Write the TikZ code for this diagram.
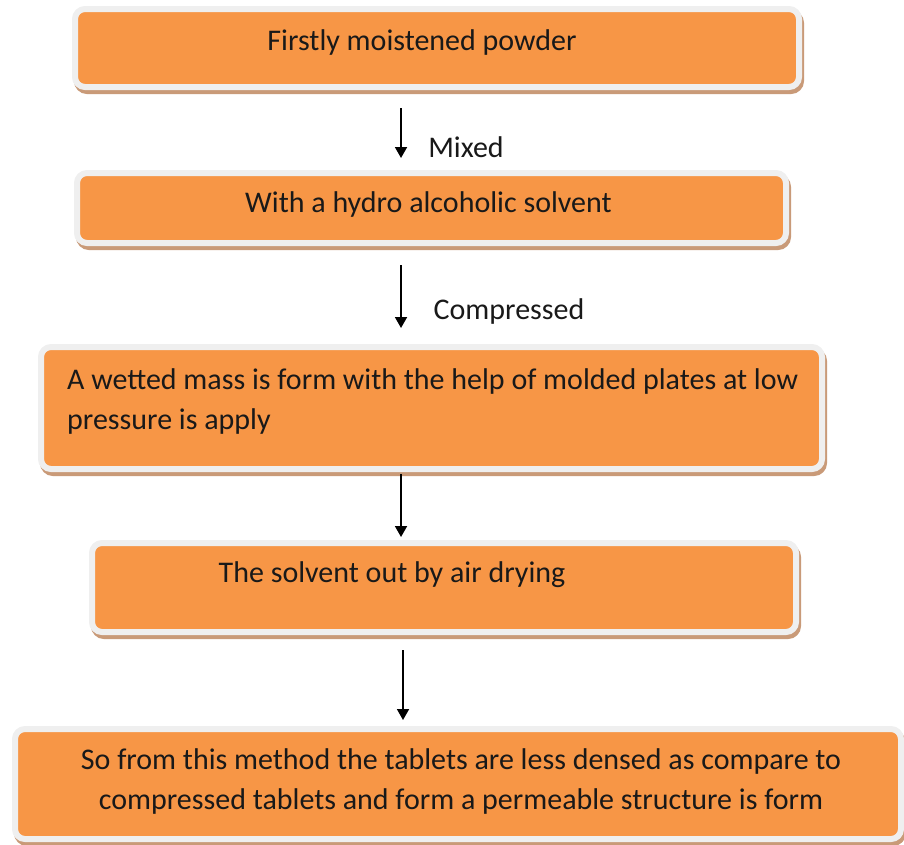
\documentclass[tikz,border=0pt]{standalone}
\usepackage{fontspec}
\setmainfont{Carlito}
\usetikzlibrary{arrows.meta,shadows}

\definecolor{boxfill}{HTML}{F79646}
\definecolor{boxedge}{HTML}{EFEFEF}
\definecolor{boxshade}{HTML}{C99A78}

\tikzset{
  stage/.style={rectangle, rounded corners=10pt, fill=boxfill, draw=boxedge,
    line width=6pt, inner sep=0pt, outer sep=0pt,
    drop shadow={shadow xshift=2pt, shadow yshift=-4pt, fill=boxshade,
      draw=boxshade, line width=6pt, opacity=1}},
  txt/.style={inner sep=0pt, font=\fontsize{30}{40}\selectfont, text=black!90},
  flow/.style={draw=black, line width=1.8pt, -{Triangle[width=12pt,length=11pt]}}
}

\begin{document}
\begin{tikzpicture}[x=1pt,y=-1pt]
   \useasboundingbox (0,0) rectangle (904,844);
   \coordinate (ax) at (401,0);
   \node[stage, minimum width=724, minimum height=78,
     label={[txt, xshift=-15pt, yshift=6pt]center:Firstly moistened powder}] (b1) at (437,48) {};
   \node[stage, minimum width=709, minimum height=70,
     label={[txt, xshift=-3pt, yshift=4pt]center:With a hydro alcoholic solvent}] (b2) at (431.5,208) {};
   \node[stage, minimum width=781, minimum height=122,
     label={[txt, align=left, anchor=west, xshift=26pt, yshift=7pt]west:A wetted mass is form with the help of molded plates at low\\pressure is apply}] (b3) at (431.5,408) {};
   \node[stage, minimum width=704, minimum height=89,
     label={[txt, xshift=-52pt, yshift=13pt]center:The solvent out by air drying}] (b4) at (444,587.5) {};
   \node[stage, minimum width=886, minimum height=110,
     label={[txt, align=center, xshift=3pt, yshift=3pt]center:So from this method the tablets are less densed as compare to\\compressed tablets and form a permeable structure is form}] (b5) at (458,784) {};
   % arrows between stages
   \draw[flow, shorten <=21pt, shorten >=15pt] (b1.south -| ax) -- (b2.north -| ax);
   \draw[flow, shorten <=22pt, shorten >=19pt] (b2.south -| ax) -- (b3.north -| ax);
   \draw[flow, shorten <=5pt, shorten >=6pt] (b3.south -| ax) -- (b4.north -| ax);
   \draw[flow, shorten <=18pt, shorten >=9pt] ([xshift=2pt]b4.south -| ax) -- ([xshift=2pt]b5.north -| ax);
   \node[txt] (mixed) at (466,147) {Mixed};
   \node[txt] (compressed) at (509,311) {Compressed};
\end{tikzpicture}
\end{document}
